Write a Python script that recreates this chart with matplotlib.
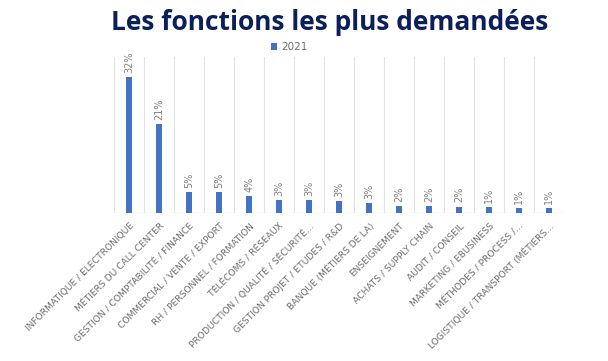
import numpy as np
import matplotlib
matplotlib.use("Agg")
import matplotlib.pyplot as plt

# data
categories = [
    "INFORMATIQUE / ELECTRONIQUE",
    "MÉTIERS DU CALL CENTER",
    "GESTION / COMPTABILITÉ / FINANCE",
    "COMMERCIAL / VENTE / EXPORT",
    "RH / PERSONNEL / FORMATION",
    "TÉLÉCOMS / RÉSEAUX",
    "PRODUCTION / QUALITÉ / SÉCURITÉ…",
    "GESTION PROJET / ETUDES / R&D",
    "BANQUE (MÉTIERS DE LA)",
    "ENSEIGNEMENT",
    "ACHATS / SUPPLY CHAIN",
    "AUDIT / CONSEIL",
    "MARKETING / EBUSINESS",
    "MÉTHODES / PROCESS /…",
    "LOGISTIQUE / TRANSPORT (MÉTIERS…",
]
values_2021 = [32, 21, 4.9, 4.9, 4.0, 3.1, 3.0, 2.9, 2.4, 1.7, 1.55, 1.5, 1.45, 1.2, 1.15]
value_labels = ["32%", "21%", "5%", "5%", "4%", "3%", "3%", "3%", "3%",
                "2%", "2%", "2%", "1%", "1%", "1%"]
series_name = "2021"

blue = "#4472C4"
grey_txt = "#6E6E6E"
grid_col = "#E3E3E3"

fig = plt.figure(figsize=(6.08, 3.61), dpi=100)
ax = fig.add_axes([114.3 / 608, 148 / 361, 450 / 608, 156 / 361])

x = np.arange(len(categories))
bars = ax.bar(x, values_2021, width=0.19, color=blue, label=series_name, zorder=3)

ax.set_xlim(-0.5, len(categories) - 0.5)
ax.set_ylim(0, 36.8)

# vertical gridlines between categories (excel style)
for b in np.arange(-0.5, len(categories), 1.0):
    ax.axvline(b, color=grid_col, lw=0.8, zorder=1)
ax.axhline(0, color=grid_col, lw=1.0, zorder=2)

for s in ax.spines.values():
    s.set_visible(False)
ax.set_yticks([])
ax.set_xticks(x)
ax.set_xticklabels(categories, rotation=45, ha="right", va="top",
                   rotation_mode="anchor", fontsize=6.6, color=grey_txt)
ax.tick_params(axis="x", length=0, pad=6)

# data labels
for xi, v, lab in zip(x, values_2021, value_labels):
    ax.annotate(lab, (xi, v), xytext=(0, 3), textcoords="offset points",
                rotation=90, ha="center", va="bottom", fontsize=7, color="#808080")

fig.text(330 / 608, 1 - 22 / 361, "Les fonctions les plus demandées",
         ha="center", va="center", fontsize=19, fontweight="bold",
         color="#0B1F5C", family="Open Sans")

fig.legend(handles=[bars], labels=[series_name], loc="center",
           bbox_to_anchor=(289 / 608, 1 - 47 / 361), frameon=False,
           fontsize=7.5, labelcolor=grey_txt, handlelength=0.6, handleheight=0.6,
           handletextpad=0.4)

fig.savefig("out.png", dpi=100, facecolor="white")
